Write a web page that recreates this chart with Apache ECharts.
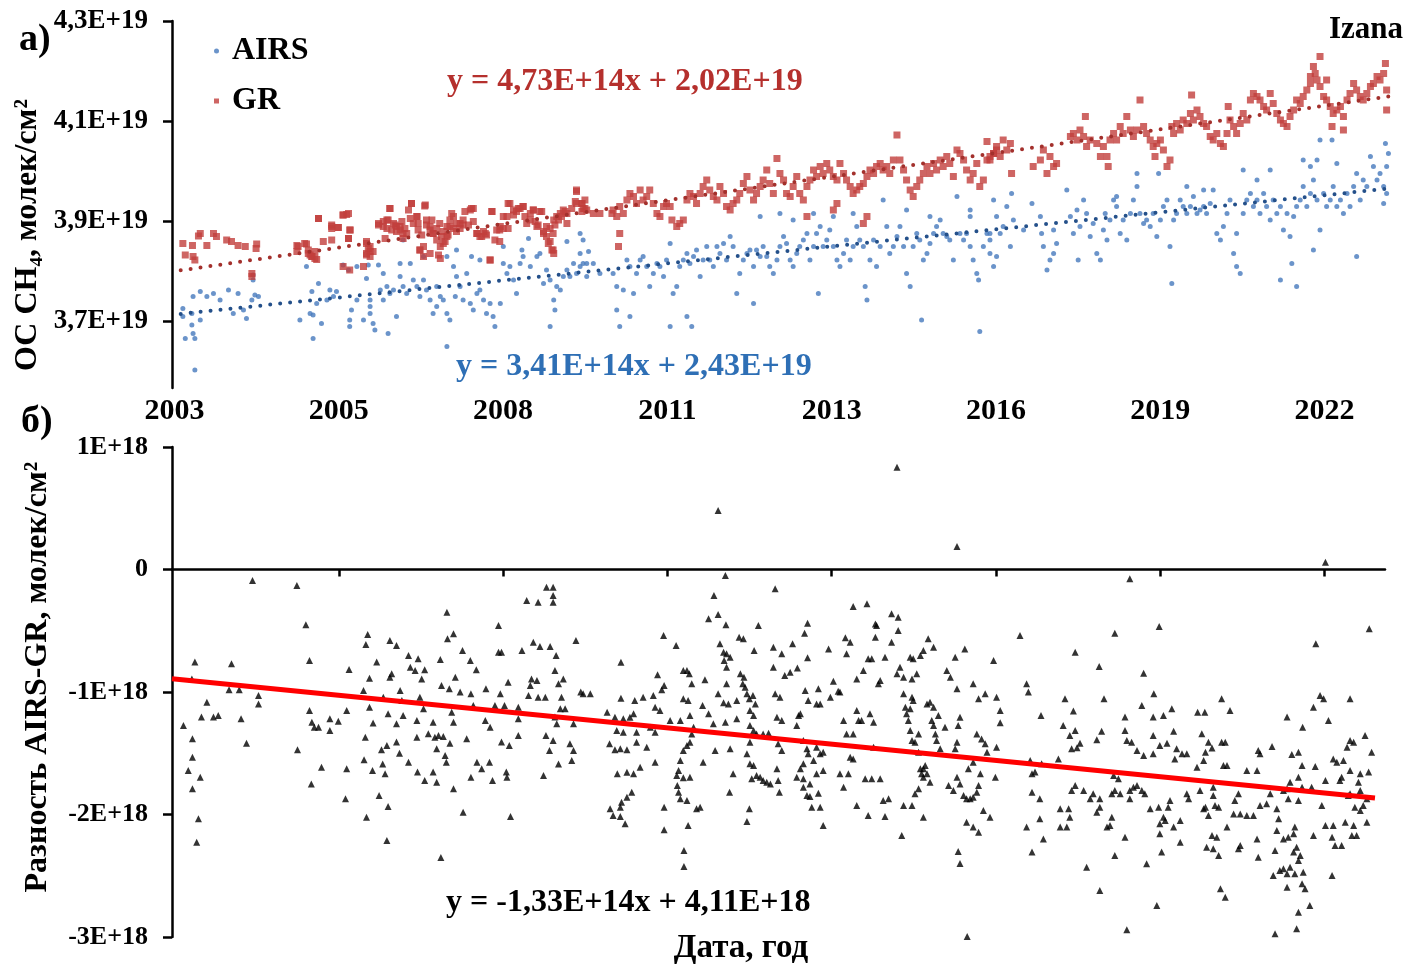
<!DOCTYPE html>
<html>
<head>
<meta charset="utf-8">
<script src="https://cdn.jsdelivr.net/npm/echarts@6/dist/echarts.min.js"></script>
<style>
html,body{margin:0;padding:0;background:#fff;}
#chart{width:1406px;height:965px;}
</style>
</head>
<body>
<div id="chart"></div>
<script>
// Izana: CH4 total column, AIRS vs ground-based (GR), and their difference.
// Dates are decimal years; values are in 1E+19 (top) and 1E+18 (bottom) molec/cm2.

const xTickDays = [37622, 38622, 39622, 40622, 41622, 42622, 43622, 44622];
const xTickLabels = ['2003', '2005', '2008', '2011', '2013', '2016', '2019', '2022'];
const topTicks = [3.7, 3.9, 4.1, 4.3];
const bottomTicks = [1, 0, -1, -2, -3];

// linear fits: [slope per day, intercept]
const grFit = [4.73e14, 2.02e19];
const airsFit = [3.41e14, 2.43e19];
const diffFit = [-1.33e14, 4.11e18];

const grPts = [
[2003.14,3.855],[2003.30,3.851],[2003.43,3.875],[2003.40,3.870],[2003.54,3.851],[2003.65,3.875],[2003.70,3.869],[2003.87,3.862],[2003.95,3.859],[2004.06,3.851],[2004.18,3.849],[2004.37,3.854],[2004.36,3.845],[2003.18,3.832],[2003.31,3.829],[2003.34,3.822],[2004.29,3.795],[2004.29,3.789],[2005.04,3.851],[2005.20,3.854],[2005.23,3.835],[2005.29,3.829],[2005.34,3.839],[2005.37,3.823],[2005.40,3.905],[2005.62,3.889],[2005.73,3.887],[2005.81,3.912],[2005.87,3.913],[2005.92,3.882],[2005.90,3.865],[2005.81,3.809],[2005.92,3.802],[2006.15,3.809],[2006.20,3.855],[2006.26,3.849],[2006.20,3.835],[2006.26,3.829],[2006.31,3.839],[2006.40,3.895],[2006.48,3.889],[2006.59,3.925],[2006.54,3.902],[2006.65,3.895],[2006.70,3.889],[2006.76,3.882],[2006.81,3.875],[2006.90,3.922],[2006.95,3.935],[2007.04,3.909],[2007.06,3.895],[2007.17,3.930],[2007.20,3.902],[2007.26,3.889],[2007.31,3.875],[2007.37,3.862],[2007.43,3.849],[2007.48,3.855],[2007.54,3.869],[2007.59,3.889],[2007.65,3.909],[2007.70,3.895],[2007.76,3.885],[2007.81,3.892],[2007.93,3.922],[2007.98,3.925],[2008.04,3.875],[2008.12,3.869],[2008.18,3.875],[2008.26,3.822],[2008.29,3.919],[2008.37,3.882],[2008.43,3.889],[2008.48,3.909],[2008.56,3.935],[2008.65,3.922],[2008.73,3.925],[2008.81,3.929],[2008.87,3.895],[2008.93,3.915],[2008.98,3.922],[2009.04,3.889],[2009.09,3.919],[2009.15,3.875],[2009.20,3.889],[2009.26,3.885],[2009.32,3.902],[2009.37,3.909],[2009.43,3.915],[2009.48,3.922],[2009.54,3.915],[2009.70,3.959],[2009.70,3.935],[2009.79,3.919],[2009.81,3.925],[2009.32,3.835],[2009.29,3.842],[2009.23,3.855],[2007.26,3.835],[2007.09,3.842],[2007.15,3.829],[2007.43,3.825],
[2005.40,3.905],[2005.62,3.892],[2005.62,3.885],[2005.73,3.887],[2005.81,3.912],[2005.90,3.915],[2005.93,3.882],[2005.48,3.859],[2005.62,3.862],[2005.17,3.855],[2005.06,3.849],[2005.04,3.839],[2005.23,3.842],[2005.29,3.829],[2005.34,3.825],[2005.26,3.832],[2005.90,3.865],[2006.20,3.859],[2006.23,3.845],[2006.26,3.839],[2006.20,3.832],[2006.40,3.892],[2006.48,3.899],[2006.56,3.902],[2006.59,3.925],[2006.54,3.885],[2006.62,3.882],[2006.68,3.892],[2006.70,3.879],[2006.76,3.889],[2006.79,3.899],[2006.84,3.885],[2006.87,3.875],[2006.93,3.905],[2006.95,3.935],[2006.98,3.895],[2007.04,3.909],[2007.06,3.882],[2007.12,3.872],[2007.18,3.932],[2007.20,3.892],[2007.26,3.882],[2007.29,3.902],[2007.31,3.875],[2007.37,3.885],[2007.42,3.895],[2007.45,3.869],[2007.48,3.879],[2007.54,3.889],[2007.56,3.872],[2007.59,3.902],[2007.62,3.915],[2007.65,3.885],[2007.70,3.879],[2007.76,3.895],[2007.81,3.902],[2007.84,3.919],[2007.90,3.892],[2007.95,3.925],[2007.98,3.899],[2008.04,3.875],[2008.09,3.869],[2008.15,3.879],[2008.20,3.872],[2008.29,3.919],[2008.34,3.862],[2008.42,3.859],[2008.42,3.882],[2008.48,3.885],[2008.54,3.909],[2008.56,3.885],[2008.59,3.935],[2008.65,3.912],[2008.70,3.919],[2008.76,3.925],[2008.81,3.929],[2008.84,3.909],[2008.93,3.902],[2008.98,3.922],[2009.01,3.899],[2009.06,3.892],[2009.12,3.919],[2009.15,3.879],[2009.20,3.869],[2009.26,3.859],[2009.31,3.875],[2009.34,3.892],[2009.40,3.902],[2009.45,3.909],[2009.51,3.919],[2009.54,3.895],[2009.62,3.925],[2009.68,3.939],[2009.70,3.962],[2009.79,3.935],[2009.84,3.925],[2007.15,3.849],[2007.09,3.842],[2007.40,3.832],[2007.51,3.859],[2008.26,3.822],[2009.31,3.842],[2006.81,3.865],[2006.51,3.865],
[2009.79,3.935],[2009.87,3.922],[2009.98,3.915],[2010.09,3.915],[2009.84,3.942],[2010.31,3.922],[2010.37,3.909],[2010.42,3.929],[2010.48,3.915],[2010.54,3.942],[2010.59,3.955],[2010.65,3.949],[2010.70,3.935],[2010.76,3.962],[2010.81,3.942],[2010.87,3.949],[2010.92,3.962],[2010.98,3.935],[2011.04,3.915],[2011.09,3.909],[2011.15,3.929],[2011.20,3.935],[2011.26,3.929],[2011.29,3.902],[2011.37,3.889],[2011.42,3.895],[2011.48,3.902],[2011.54,3.942],[2011.59,3.955],[2011.65,3.949],[2011.70,3.935],[2011.76,3.955],[2011.81,3.969],[2011.87,3.982],[2011.92,3.962],[2011.98,3.949],[2012.04,3.942],[2012.09,3.969],[2012.15,3.955],[2012.20,3.929],[2012.26,3.922],[2012.31,3.935],[2012.37,3.942],[2012.42,3.955],[2012.48,3.975],[2012.54,3.989],[2012.59,3.962],[2012.65,3.942],[2012.70,3.955],[2012.76,3.969],[2012.81,3.982],[2012.87,4.002],[2012.92,3.975],[2012.98,3.955],[2013.04,4.025],[2013.09,3.995],[2013.15,3.982],[2013.20,3.955],[2013.26,3.949],[2013.31,3.969],[2013.37,3.989],[2013.42,3.955],[2013.48,3.942],[2013.54,3.969],[2013.59,3.982],[2013.65,4.002],[2013.70,3.989],[2013.76,4.009],[2013.81,3.995],[2013.87,4.015],[2013.92,4.002],[2013.98,3.989],[2014.04,3.982],[2014.09,4.015],[2014.15,3.995],[2014.20,3.982],[2014.26,3.969],[2014.31,3.955],[2014.37,3.962],[2014.42,3.969],[2014.48,3.975],[2014.54,3.989],[2014.59,4.002],[2014.65,3.995],[2014.70,4.009],[2014.76,4.015],[2014.81,4.002],[2014.87,4.009],[2014.92,3.995],[2014.98,4.022],[2015.04,4.072],[2015.09,4.022],[2015.15,4.002],[2015.20,3.982],[2015.26,3.962],[2015.31,3.949],[2015.37,3.969],[2015.42,3.982],[2015.48,3.995],[2015.54,4.009],[2015.59,3.995],[2015.65,4.015],[2015.70,4.002],[2015.76,4.022],[2015.81,4.009],[2015.87,4.029],[2015.92,4.015],[2015.98,3.989],[2016.04,4.042],[2016.09,4.035],[2016.15,4.022],[2016.20,4.002],[2016.26,3.982],[2016.31,3.995],[2016.37,4.015],[2016.42,3.969],[2016.48,3.982],[2016.54,4.022],[2016.59,4.029],[2016.65,4.035],[2016.70,4.042],[2016.54,4.059],[2010.40,3.849],[2010.42,3.875],[2010.29,3.915],[2014.48,3.895],[2014.54,3.909],[2013.98,3.922],[2014.04,3.935],[2013.54,3.909],
[2016.59,4.022],[2016.65,4.035],[2016.70,4.049],[2016.76,4.029],[2016.81,4.062],[2016.87,4.042],[2016.93,4.055],[2016.95,3.995],[2017.31,4.009],[2017.43,4.022],[2017.48,4.042],[2017.54,3.995],[2017.59,4.029],[2017.65,4.009],[2017.70,4.015],[2017.93,4.069],[2017.98,4.075],[2018.04,4.062],[2018.09,4.082],[2018.15,4.069],[2018.18,4.109],[2018.20,4.049],[2018.26,4.062],[2018.37,4.055],[2018.43,4.029],[2018.48,4.049],[2018.54,4.029],[2018.56,4.009],[2018.59,4.062],[2018.65,4.075],[2018.70,4.062],[2018.76,4.089],[2018.81,4.075],[2018.87,4.109],[2018.93,4.082],[2018.98,4.069],[2019.04,4.082],[2019.09,4.142],[2019.15,4.089],[2019.20,4.075],[2019.26,4.062],[2019.31,4.049],[2019.34,4.029],[2019.37,4.055],[2019.43,4.062],[2019.48,4.042],[2019.54,4.009],[2019.59,4.022],[2019.62,4.089],[2019.65,4.075],[2019.70,4.095],[2019.76,4.082],[2019.81,4.102],[2019.87,4.095],[2019.93,4.115],[2019.95,4.152],[2019.98,4.102],[2020.04,4.122],[2020.09,4.109],[2020.15,4.095],[2020.20,4.089],[2020.26,4.069],[2020.31,4.062],[2020.37,4.075],[2020.43,4.055],[2020.48,4.049],[2020.54,4.075],[2020.56,4.129],[2020.59,4.102],[2020.65,4.089],[2020.70,4.075],[2020.76,4.095],[2020.81,4.115],[2020.87,4.102],[2020.93,4.142],[2020.98,4.155],[2021.04,4.149],[2021.09,4.142],[2021.15,4.129],[2021.20,4.122],[2021.26,4.155],[2021.31,4.135],[2021.37,4.115],[2021.43,4.102],[2021.48,4.095],[2021.54,4.089],[2021.59,4.109],[2021.65,4.122],[2021.70,4.142],[2021.76,4.135],[2021.81,4.149],[2021.87,4.162],[2021.93,4.175],[2021.98,4.209],[2022.01,4.195],[2022.04,4.182],[2022.09,4.169],[2022.15,4.149],[2022.20,4.142],[2022.26,4.129],[2022.29,4.089],[2022.31,4.115],[2022.37,4.122],[2022.43,4.129],[2022.48,4.109],[2022.54,4.142],[2022.59,4.155],[2022.65,4.175],[2022.70,4.162],[2022.76,4.149],[2022.81,4.142],[2022.87,4.155],[2022.93,4.169],[2022.98,4.175],[2023.04,4.189],[2023.09,4.182],[2023.15,4.195],[2023.18,4.215],[2023.20,4.162],[2023.20,4.122],[2022.48,4.082],[2022.20,4.182],[2022.09,4.229],[2021.93,4.189]
];

const airsPts = [
[2003.14,3.725],[2003.14,3.709],[2003.18,3.665],[2003.29,3.715],[2003.29,3.692],[2003.31,3.675],[2003.34,3.665],[2003.34,3.602],[2003.43,3.702],[2003.31,3.749],[2003.43,3.759],[2003.54,3.749],[2003.65,3.755],[2003.76,3.742],[2003.90,3.762],[2003.98,3.715],[2004.06,3.755],[2004.15,3.722],[2004.20,3.705],[2004.29,3.742],[2004.34,3.752],[2004.40,3.749],[2004.31,3.782],[2004.31,3.792],[2005.09,3.702],[2005.26,3.715],[2005.29,3.759],[2005.31,3.712],[2005.31,3.665],[2005.37,3.735],[2005.45,3.695],[2005.40,3.775],[2005.54,3.742],[2005.59,3.762],[2005.65,3.749],[2005.70,3.759],[2005.20,3.809],[2005.81,3.812],[2005.90,3.802],[2005.92,3.702],[2005.92,3.689],[2005.95,3.722],[2006.04,3.742],[2006.15,3.702],[2006.20,3.785],[2006.23,3.812],[2006.26,3.742],[2006.26,3.729],[2006.26,3.715],[2006.31,3.695],[2006.34,3.682],[2006.40,3.812],[2006.43,3.762],[2006.48,3.742],[2006.54,3.769],[2006.56,3.675],[2006.59,3.755],[2006.65,3.762],[2006.70,3.709],[2006.76,3.815],[2006.76,3.789],[2006.81,3.769],[2006.87,3.755],[2006.93,3.815],[2006.98,3.782],[2007.04,3.769],[2007.09,3.749],[2007.15,3.782],[2007.20,3.762],[2007.26,3.742],[2007.31,3.715],[2007.37,3.729],[2007.37,3.769],[2007.43,3.749],[2007.48,3.742],[2007.54,3.649],[2007.54,3.715],[2007.59,3.702],[2007.65,3.809],[2007.68,3.749],[2007.70,3.789],[2007.76,3.769],[2007.81,3.742],[2007.87,3.795],[2007.93,3.735],[2007.98,3.722],[2008.04,3.755],[2008.09,3.762],[2008.15,3.742],[2008.20,3.715],[2008.26,3.735],[2008.31,3.709],[2008.34,3.689],[2008.43,3.735],[2008.48,3.815],[2008.54,3.795],[2008.59,3.809],[2008.65,3.782],[2008.70,3.755],[2008.76,3.815],[2008.81,3.829],[2008.93,3.809],[2009.04,3.829],[2009.09,3.835],[2009.15,3.775],[2009.20,3.802],[2009.26,3.782],[2009.32,3.742],[2009.34,3.722],[2009.26,3.689],[2009.37,3.769],[2009.43,3.762],[2009.48,3.789],[2009.54,3.802],[2009.59,3.789],[2009.65,3.815],[2009.70,3.795],[2009.76,3.835],[2009.81,3.815],[2009.87,3.789],[2009.90,3.839],[2009.81,3.862],[2009.54,3.859],[2009.76,3.875],[2008.90,3.865],[2008.79,3.842],[2008.48,3.849],[2008.09,3.822],[2007.95,3.829],[2007.70,3.842],[2007.54,3.829],[2007.15,3.829],[2006.81,3.862],[2006.48,3.795],[2006.04,3.809],
[2009.76,3.809],[2009.87,3.815],[2009.98,3.815],[2010.09,3.795],[2010.31,3.795],[2010.37,3.769],[2010.37,3.722],[2010.42,3.689],[2010.48,3.762],[2010.54,3.822],[2010.59,3.809],[2010.65,3.755],[2010.59,3.709],[2010.70,3.795],[2010.76,3.822],[2010.81,3.829],[2010.87,3.809],[2010.92,3.769],[2010.98,3.795],[2011.04,3.815],[2011.09,3.809],[2011.15,3.789],[2011.20,3.822],[2011.26,3.855],[2011.26,3.689],[2011.31,3.755],[2011.37,3.769],[2011.42,3.809],[2011.48,3.822],[2011.54,3.835],[2011.54,3.709],[2011.59,3.815],[2011.62,3.689],[2011.65,3.829],[2011.70,3.842],[2011.76,3.789],[2011.81,3.822],[2011.87,3.849],[2011.92,3.822],[2011.98,3.809],[2012.04,3.849],[2012.09,3.835],[2012.15,3.855],[2012.20,3.822],[2012.26,3.869],[2012.31,3.849],[2012.37,3.755],[2012.42,3.795],[2012.48,3.822],[2012.54,3.835],[2012.59,3.842],[2012.65,3.735],[2012.65,3.809],[2012.70,3.842],[2012.76,3.829],[2012.81,3.849],[2012.87,3.829],[2012.92,3.809],[2012.98,3.795],[2013.04,3.822],[2013.09,3.849],[2013.15,3.869],[2013.20,3.855],[2013.26,3.822],[2013.31,3.809],[2013.37,3.835],[2013.42,3.849],[2013.48,3.862],[2013.54,3.875],[2013.59,3.822],[2013.65,3.849],[2013.70,3.875],[2013.73,3.755],[2013.76,3.889],[2013.81,3.849],[2013.87,3.862],[2013.92,3.882],[2013.98,3.849],[2014.04,3.822],[2014.09,3.809],[2014.15,3.835],[2014.20,3.862],[2014.26,3.822],[2014.31,3.849],[2014.37,3.889],[2014.42,3.862],[2014.48,3.849],[2014.51,3.769],[2014.54,3.742],[2014.59,3.822],[2014.65,3.862],[2014.70,3.809],[2014.76,3.849],[2014.81,3.942],[2014.87,3.889],[2014.92,3.835],[2014.98,3.849],[2015.04,3.869],[2015.09,3.889],[2015.15,3.849],[2015.20,3.795],[2015.26,3.769],[2015.31,3.849],[2015.37,3.875],[2015.42,3.862],[2015.45,3.702],[2015.48,3.822],[2015.54,3.835],[2015.59,3.855],[2015.65,3.875],[2015.70,3.889],[2015.76,3.902],[2015.81,3.875],[2015.87,3.869],[2015.92,3.862],[2015.98,3.822],[2016.04,3.949],[2016.09,3.875],[2016.15,3.862],[2016.20,3.875],[2016.26,3.849],[2016.31,3.822],[2016.37,3.795],[2016.40,3.782],[2016.42,3.679],[2016.48,3.849],[2016.54,3.875],[2016.59,3.862],[2016.65,3.942],[2016.70,3.829],[2012.76,3.909],[2013.09,3.915],[2013.31,3.902],[2013.65,3.915],[2013.98,3.909],[2014.31,3.915],[2015.20,3.922],[2015.59,3.909],[2016.26,3.922],[2016.26,3.909],
[2016.59,3.875],[2016.59,3.835],[2016.65,3.809],[2016.70,3.909],[2016.76,3.875],[2016.81,3.889],[2016.87,3.929],[2016.93,3.849],[2016.95,3.955],[2016.98,3.902],[2017.15,3.882],[2017.29,3.935],[2017.43,3.909],[2017.45,3.875],[2017.48,3.849],[2017.54,3.802],[2017.59,3.822],[2017.65,3.835],[2017.65,3.882],[2017.70,3.855],[2017.87,3.962],[2017.93,3.909],[2017.98,3.875],[2018.04,3.922],[2018.06,3.822],[2018.09,3.889],[2018.15,3.942],[2018.20,3.915],[2018.26,3.869],[2018.31,3.895],[2018.37,3.835],[2018.43,3.822],[2018.48,3.882],[2018.51,3.915],[2018.54,3.862],[2018.59,3.902],[2018.65,3.942],[2018.70,3.929],[2018.76,3.875],[2018.81,3.902],[2018.87,3.862],[2018.93,3.915],[2018.98,3.942],[2019.04,3.969],[2019.09,3.915],[2019.15,3.895],[2019.20,3.902],[2019.26,3.889],[2019.31,3.915],[2019.37,3.869],[2019.40,3.995],[2019.43,3.902],[2019.48,3.929],[2019.54,3.942],[2019.59,3.849],[2019.62,3.775],[2019.65,3.902],[2019.70,3.915],[2019.76,3.942],[2019.81,3.929],[2019.87,3.915],[2019.93,3.929],[2019.98,3.949],[2020.04,3.915],[2020.09,3.922],[2020.15,3.929],[2020.20,3.915],[2020.26,3.935],[2020.31,3.962],[2020.37,3.875],[2020.43,3.862],[2020.48,3.889],[2020.54,3.915],[2020.59,3.942],[2020.65,3.835],[2020.70,3.875],[2020.76,3.795],[2020.81,3.915],[2020.87,3.942],[2020.93,3.955],[2020.98,3.929],[2021.04,3.942],[2021.09,3.915],[2021.15,3.955],[2021.20,3.929],[2021.26,3.902],[2021.31,3.942],[2021.37,3.915],[2021.43,3.929],[2021.48,3.882],[2021.54,3.915],[2021.59,3.869],[2021.62,3.815],[2021.65,3.909],[2021.70,3.929],[2021.76,3.942],[2021.81,3.969],[2021.87,3.929],[2021.93,3.955],[2021.98,3.982],[2022.04,3.942],[2022.09,3.882],[2022.09,4.062],[2022.15,3.955],[2022.20,3.929],[2022.26,3.942],[2022.29,4.062],[2022.31,3.969],[2022.37,3.929],[2022.43,3.942],[2022.48,3.915],[2022.54,3.955],[2022.59,3.929],[2022.65,3.969],[2022.70,3.829],[2022.70,3.995],[2022.76,3.942],[2022.81,3.982],[2022.87,3.969],[2022.93,4.029],[2022.98,4.009],[2023.04,3.982],[2023.09,3.995],[2023.15,3.969],[2023.18,4.055],[2023.20,4.009],[2023.20,3.955],[2023.23,4.035],[2023.15,3.935],[2021.93,4.009],[2021.81,4.022],[2022.04,4.022],[2022.37,4.015],[2021.70,3.769],[2021.98,3.842],[2021.43,3.782],[2018.70,3.949],[2019.04,3.995],[2019.87,3.969],[2020.15,3.962],[2020.81,4.002],[2021.04,3.982],[2021.26,4.002],[2020.70,3.809]
];

const diffPts = [
[2003.15,-1.273],[2003.30,-1.382],[2003.30,-1.532],[2003.23,-1.641],[2003.30,-1.790],[2003.40,-2.035],[2003.37,-2.226],[2003.43,-1.695],[2003.34,-0.756],[2003.29,-0.893],[2003.45,-1.205],[2003.54,-1.083],[2003.65,-1.205],[2003.73,-1.192],[2003.95,-0.770],[2003.91,-0.982],[2004.08,-0.982],[2004.11,-1.219],[2004.20,-1.418],[2004.30,-0.090],[2004.40,-1.028],[2004.40,-1.097],[2005.04,-0.131],[2005.05,-1.472],[2005.19,-0.452],[2005.25,-0.743],[2005.25,-1.151],[2005.29,-1.246],[2005.33,-1.287],[2005.40,-1.287],[2005.45,-1.614],[2005.28,-1.750],[2005.59,-1.219],[2005.59,-1.314],[2005.73,-1.238],[2005.85,-1.872],[2005.87,-1.151],[2005.87,-1.627],[2005.91,-0.816],[2006.15,-0.988],[2006.19,-0.612],[2006.22,-0.531],[2006.25,-0.887],[2006.25,-1.124],[2006.18,-1.369],[2006.16,-1.554],[2006.20,-2.022],[2006.30,-1.641],[2006.31,-1.254],[2006.37,-0.756],[2006.41,-1.845],[2006.45,-1.472],[2006.48,-1.042],[2006.47,-1.587],[2006.51,-1.668],[2006.54,-2.212],[2006.54,-1.437],[2006.56,-1.178],[2006.56,-1.935],[2006.59,-0.580],[2006.59,-0.879],[2006.62,-0.852],[2006.70,-0.620],[2006.70,-1.260],[2006.70,-1.409],[2006.75,-1.499],[2006.76,-0.988],[2006.79,-1.069],[2006.81,-1.192],[2006.90,-0.702],[2006.90,-1.573],[2006.93,-0.797],[2007.01,-0.824],[2007.04,-1.233],[2007.04,-1.369],[2007.05,-1.654],[2007.06,-0.729],[2007.09,-1.042],[2007.12,-0.893],[2007.15,-1.137],[2007.17,-0.819],[2007.17,-1.722],[2007.23,-1.341],[2007.31,-1.246],[2007.31,-1.654],[2007.34,-1.369],[2007.37,-1.464],[2007.37,-1.736],[2007.40,-1.355],[2007.43,-0.735],[2007.45,-0.947],[2007.48,-1.363],[2007.51,-1.518],[2007.53,-1.573],[2007.54,-0.348],[2007.55,-0.566],[2007.58,-0.974],[2007.59,-1.418],[2007.62,-1.165],[2007.65,-0.525],[2007.65,-1.246],[2007.65,-1.790],[2007.68,-0.879],[2007.76,-1.001],[2007.80,-0.661],[2007.81,-1.981],[2007.87,-1.382],[2007.93,-0.743],[2007.94,-1.015],[2007.94,-1.695],[2007.98,-1.110],[2008.03,-0.819],[2008.04,-1.573],[2008.12,-1.627],[2008.18,-1.233],[2008.19,-0.974],[2008.26,-1.287],[2008.25,-1.573],[2008.30,-1.722],[2008.34,-1.110],[2008.40,-0.457],[2008.40,-0.675],[2008.43,-1.015],[2008.45,-0.675],[2008.45,-1.409],[2008.50,-1.110],[2008.53,-1.654],[2008.54,-1.695],[2008.56,-0.920],[2008.58,-1.437],[2008.60,-2.016],[2008.73,-1.124],[2008.73,-1.219],[2008.73,-1.355],[2008.79,-0.661],[2008.87,-0.253],[2008.90,-1.029],[2008.93,-0.947],[2008.95,-0.893],[2008.98,-0.593],[2009.04,-0.906],[2009.06,-0.267],[2009.06,-1.042],[2009.09,-0.629],[2009.15,-1.682],[2009.18,-1.042],[2009.20,-0.144],[2009.19,-1.355],[2009.25,-1.478],[2009.26,-0.629],[2009.31,-0.144],[2009.31,-0.267],[2009.31,-0.212],[2009.31,-1.396],[2009.34,-0.824],[2009.34,-1.205],[2009.36,-0.702],[2009.37,-1.260],[2009.40,-0.933],[2009.43,-1.137],[2009.45,-1.042],[2009.48,-0.893],[2009.40,-1.587],[2009.59,-1.423],[2009.65,-1.478],[2009.62,-1.559],[2009.65,-1.260],[2009.69,-0.580],[2009.77,-1.001],[2009.81,-1.015],[2009.51,-1.137],[2007.44,-2.351],
[2012.06,0.482],[2015.04,0.835],[2016.04,0.188],[2012.18,-0.049],[2011.99,-0.212],[2013.01,-0.158],[2011.90,-0.403],[2012.06,-0.367],[2012.19,-0.452],[2011.15,-0.539],[2011.36,-0.620],[2010.44,-0.757],[2011.05,-0.860],[2011.12,-0.982],[2011.16,-0.947],[2009.93,-1.015],[2010.44,-1.050],[2010.67,-1.069],[2010.81,-1.042],[2010.98,-1.028],[2011.01,-1.124],[2011.09,-1.151],[2010.21,-1.165],[2010.34,-1.206],[2010.48,-1.219],[2010.59,-1.206],[2010.65,-1.178],[2010.37,-1.314],[2010.48,-1.328],[2010.70,-1.328],[2010.93,-1.287],[2011.01,-1.328],[2010.25,-1.423],[2010.34,-1.472],[2010.43,-1.464],[2010.54,-1.472],[2010.70,-1.410],[2010.87,-1.450],[2011.01,-1.573],[2010.38,-1.668],[2010.54,-1.655],[2010.65,-1.668],[2010.76,-1.614],[2010.62,-1.818],[2010.54,-1.859],[2010.45,-1.899],[2010.26,-1.954],[2010.43,-1.940],[2010.31,-2.008],[2010.43,-2.016],[2010.51,-2.076],[2011.16,-1.940],[2011.16,-2.125],[2011.26,-1.233],[2011.43,-1.233],[2011.48,-0.824],[2011.54,-0.824],[2011.58,-0.852],[2011.48,-1.056],[2011.56,-1.069],[2011.62,-0.933],[2011.59,-1.192],[2011.65,-1.287],[2011.62,-1.342],[2011.59,-1.410],[2011.54,-1.437],[2011.48,-1.478],[2011.43,-1.559],[2011.40,-1.641],[2011.37,-1.682],[2011.48,-1.701],[2011.59,-1.695],[2011.38,-1.763],[2011.40,-1.818],[2011.43,-1.872],[2011.54,-1.886],[2011.56,-2.090],[2011.70,-1.954],[2011.76,-1.940],[2011.81,-1.573],[2011.84,-0.901],[2011.80,-1.110],[2011.90,-1.178],[2011.98,-1.260],[2012.01,-1.478],[2012.06,-1.015],[2012.09,-0.607],[2012.15,-0.675],[2012.20,-0.688],[2012.16,-0.743],[2012.20,-0.797],[2012.26,-0.716],[2012.20,-0.933],[2012.15,-1.088],[2012.23,-1.097],[2012.18,-1.246],[2012.26,-1.464],[2012.31,-1.668],[2012.25,-1.818],[2012.37,-1.069],[2012.37,-1.219],[2012.41,-0.553],[2012.48,-0.566],[2012.43,-0.852],[2012.49,-0.879],[2012.47,-0.933],[2012.51,-0.961],[2012.54,-1.015],[2012.58,-1.056],[2012.64,-1.029],[2012.59,-1.151],[2012.65,-1.192],[2012.68,-1.097],[2012.59,-1.274],[2012.65,-1.314],[2012.70,-1.342],[2012.59,-1.410],[2012.54,-1.505],[2012.59,-1.586],[2012.65,-1.600],[2012.62,-1.709],[2012.70,-1.682],[2012.76,-1.695],[2012.81,-1.722],[2012.87,-1.736],[2012.93,-1.750],[2012.58,-1.954],[2012.54,-2.057],[2012.66,-0.661],[2012.73,-0.457],[2012.81,-1.342],[2012.90,-1.336],[2012.98,-0.797],[2013.01,-1.015],[2013.09,-1.042],[2013.04,-1.206],[2013.12,-1.233],[2013.06,-1.423],[2013.12,-1.478],[2013.04,-1.627],[2013.06,-1.722],[2013.08,-1.818],[2012.98,-0.634],[2013.12,-0.688],[2013.17,-0.865],[2013.26,-0.838],[2013.30,-0.607],[2013.38,-0.805],[2013.50,-0.520],[2013.55,-0.438],[2013.55,-0.721],[2013.51,-0.988],[2013.56,-1.069],[2013.70,-1.097],[2013.76,-1.097],[2013.73,-0.974],[2013.40,-1.192],[2013.37,-1.274],[2013.43,-1.178],[2013.48,-1.396],[2013.54,-1.464],[2013.56,-1.505],[2013.70,-1.450],[2013.76,-1.505],[2013.81,-1.491],[2013.65,-1.559],[2013.48,-1.586],[2013.43,-1.627],[2013.37,-1.695],[2013.48,-1.709],[2013.59,-1.750],[2013.70,-1.668],[2013.81,-1.641],[2013.48,-1.777],[2013.54,-1.845],[2013.59,-1.853],[2013.73,-1.826],[2013.62,-1.940],[2013.76,-1.940],[2013.81,-2.090],[2013.90,-0.648],[2013.98,-0.912],[2013.93,-1.042],[2014.06,-0.993],[2014.09,-1.001],[2014.15,-1.233],[2014.20,-1.342],[2014.26,-0.593],[2014.18,-0.558],[2014.20,-0.688],[2014.31,-0.302],[2014.37,-0.893],[2014.37,-1.151],[2014.40,-1.233],[2014.45,-1.233],[2014.48,-0.824],[2014.54,-0.280],[2014.56,-0.729],[2014.62,-0.729],[2014.59,-1.178],[2014.65,-1.246],[2014.68,-0.444],[2014.68,-0.553],[2014.70,-0.457],[2014.73,-0.933],[2014.76,-0.906],[2014.84,-0.716],[2014.31,-1.342],[2014.31,-1.546],[2014.26,-1.532],[2014.23,-1.668],[2014.09,-1.668],[2014.15,-1.777],[2014.37,-1.927],[2014.51,-1.709],[2014.56,-2.008],[2014.62,-1.709],[2014.65,-1.450],[2014.76,-1.709],[2014.81,-1.886],[2014.84,-2.016],[2014.90,-1.872],[2014.95,-0.362],[2014.95,-0.593],[2015.06,-0.389],[2015.06,-0.498],[2015.09,-0.797],[2015.04,-0.852],[2015.15,-1.015],[2015.18,-1.124],[2015.20,-1.178],[2015.26,-1.137],[2015.23,-1.233],[2015.29,-1.042],[2015.31,-1.069],[2015.26,-1.314],[2015.29,-1.396],[2015.34,-1.410],[2015.40,-1.342],[2015.40,-1.491],[2015.43,-1.627],[2015.34,-1.831],[2015.40,-1.790],[2015.45,-1.668],[2015.48,-1.627],[2015.51,-1.600],[2015.48,-1.695],[2015.54,-1.668],[2015.59,-1.736],[2015.15,-1.927],[2015.12,-2.171],[2015.29,-1.927],[2015.48,-2.022],[2015.56,-0.566],[2015.65,-0.634],[2015.48,-0.661],[2015.43,-0.702],[2015.31,-0.729],[2015.26,-0.716],[2015.37,-0.852],[2015.29,-0.893],[2015.15,-0.879],[2015.54,-1.097],[2015.59,-1.083],[2015.65,-1.124],[2015.62,-1.233],[2015.73,-1.192],[2015.65,-1.274],[2015.68,-1.342],[2015.70,-1.396],[2015.76,-1.464],[2015.84,-1.287],[2015.87,-0.824],[2015.93,-0.879],[2016.01,-0.716],[2016.04,-0.974],[2016.09,-1.206],[2016.06,-1.274],[2016.04,-1.410],[2016.01,-1.464],[2016.04,-1.695],[2016.09,-1.750],[2015.90,-1.763],[2015.98,-1.804],[2016.15,-1.845],[2016.20,-1.872],[2016.26,-1.872],[2016.31,-1.859],[2016.37,-1.818],[2016.40,-1.763],[2016.43,-1.668],[2016.20,-2.063],[2016.31,-2.103],[2016.40,-2.144],[2016.48,-1.967],[2016.51,-1.423],[2016.54,-1.491],[2016.37,-1.342],[2016.40,-1.056],[2016.51,-1.015],[2016.31,-0.933],[2016.17,-0.648],[2016.23,-1.627],[2016.31,-1.573],[2016.45,-1.383],[2016.65,-0.743],[2016.70,-1.042],[2016.70,-1.450],[2016.68,-1.695],[2016.59,-2.022],[2011.49,-2.294],[2011.49,-2.424],[2016.21,-2.996],[2016.06,-2.302],[2016.09,-2.400],
[2022.18,0.060],[2018.92,-0.076],[2017.09,-0.539],[2018.01,-0.675],[2018.67,-0.520],[2019.41,-0.465],[2022.91,-0.484],[2022.02,-0.607],[2018.41,-0.792],[2019.15,-0.846],[2017.20,-0.933],[2017.23,-1.001],[2017.84,-1.056],[2018.49,-1.056],[2017.98,-1.156],[2017.44,-1.192],[2016.76,-1.151],[2016.76,-1.252],[2019.32,-1.015],[2019.12,-1.110],[2018.84,-1.205],[2019.31,-1.205],[2019.48,-1.192],[2019.62,-1.137],[2020.45,-1.056],[2020.59,-1.151],[2020.05,-1.165],[2020.17,-1.165],[2021.98,-1.124],[2022.09,-1.029],[2022.15,-1.056],[2022.59,-1.056],[2022.23,-1.233],[2021.80,-1.287],[2021.54,-1.205],[2017.81,-1.273],[2017.92,-1.355],[2018.01,-1.314],[2018.09,-1.418],[2017.95,-1.464],[2018.04,-1.456],[2018.45,-1.320],[2018.37,-1.390],[2018.84,-1.314],[2018.87,-1.396],[2018.95,-1.410],[2019.42,-1.437],[2019.54,-1.418],[2019.65,-1.320],[2019.70,-1.464],[2019.31,-1.355],[2019.04,-1.478],[2019.15,-1.518],[2019.31,-1.505],[2019.67,-1.546],[2019.79,-1.505],[2019.87,-1.505],[2020.04,-1.614],[2020.12,-1.341],[2020.23,-1.410],[2020.29,-1.458],[2020.18,-1.491],[2020.45,-1.410],[2020.51,-1.410],[2020.48,-1.600],[2020.54,-1.600],[2020.87,-1.641],[2021.04,-1.641],[2021.09,-1.505],[2021.06,-1.478],[2021.29,-1.445],[2021.62,-1.510],[2021.73,-1.491],[2021.79,-1.600],[2021.73,-1.695],[2021.59,-1.736],[2021.54,-1.790],[2022.01,-1.608],[2022.18,-1.722],[2022.31,-1.546],[2022.37,-1.573],[2022.45,-1.695],[2022.42,-1.722],[2022.59,-1.641],[2022.59,-1.396],[2022.65,-1.410],[2022.84,-1.355],[2022.95,-1.491],[2022.90,-1.654],[2022.59,-1.831],[2022.73,-1.736],[2022.76,-1.804],[2022.87,-1.872],[2022.81,-1.927],[2022.67,-1.940],[2022.56,-1.845],[2022.12,-1.927],[2021.95,-1.777],[2021.79,-1.777],[2021.56,-1.872],[2021.73,-1.886],[2021.37,-1.954],[2021.48,-1.804],[2021.26,-1.831],[2021.20,-1.913],[2021.09,-1.927],[2020.98,-2.008],[2020.87,-2.008],[2020.76,-1.995],[2020.67,-1.886],[2020.73,-1.831],[2020.65,-1.995],[2020.54,-2.103],[2020.40,-1.940],[2020.34,-1.927],[2020.23,-2.008],[2020.15,-1.954],[2020.31,-1.845],[2020.31,-1.777],[2020.15,-1.559],[2019.87,-1.831],[2019.90,-1.872],[2019.76,-2.049],[2019.65,-2.103],[2019.56,-1.940],[2019.59,-1.886],[2019.48,-2.022],[2019.42,-2.076],[2019.42,-2.158],[2019.45,-2.307],[2019.76,-2.226],[2019.37,-2.743],[2018.87,-2.941],[2019.20,-2.403],[2018.67,-2.335],[2018.20,-2.430],[2018.42,-2.620],[2017.48,-2.199],[2017.29,-2.307],[2017.20,-2.103],[2017.42,-2.035],[2017.42,-1.872],[2017.29,-1.818],[2017.29,-1.668],[2017.34,-1.654],[2017.26,-1.559],[2017.45,-1.586],[2017.73,-1.546],[2017.76,-1.954],[2017.76,-2.103],[2017.87,-2.103],[2017.92,-2.022],[2017.90,-1.954],[2017.95,-1.804],[2018.01,-1.763],[2018.15,-1.804],[2018.26,-1.872],[2018.31,-1.831],[2018.42,-1.872],[2018.42,-1.940],[2018.54,-2.103],[2018.59,-2.090],[2018.62,-2.022],[2018.37,-1.981],[2018.62,-1.831],[2018.67,-1.804],[2018.76,-1.831],[2018.92,-1.804],[2018.98,-1.777],[2019.04,-1.763],[2019.12,-1.804],[2019.17,-1.831],[2018.92,-1.872],[2018.65,-1.682],[2018.73,-1.709],[2018.84,-2.185],[2019.26,-1.954],[2019.40,-1.940],[2019.51,-2.049],[2020.09,-1.804],[2020.18,-1.940],[2020.29,-2.171],[2020.37,-2.185],[2020.40,-2.335],[2020.31,-2.280],[2020.20,-2.267],[2020.43,-2.607],[2020.51,-2.675],[2020.76,-2.253],[2020.73,-2.280],[2021.04,-2.199],[2021.06,-2.348],[2021.34,-2.294],[2021.40,-2.035],[2021.37,-2.131],[2021.48,-2.199],[2021.56,-2.185],[2021.65,-2.158],[2021.67,-2.103],[2021.70,-2.267],[2021.76,-2.335],[2021.73,-2.375],[2021.65,-2.307],[2021.67,-2.484],[2021.59,-2.430],[2021.54,-2.484],[2021.48,-2.443],[2021.42,-2.457],[2021.31,-2.498],[2021.54,-2.593],[2021.79,-2.566],[2021.81,-2.471],[2021.84,-2.607],[2021.73,-2.797],[2021.92,-2.743],[2021.70,-2.933],[2021.34,-2.974],[2021.98,-2.171],[2022.18,-2.090],[2022.29,-2.185],[2022.34,-2.253],[2022.45,-2.253],[2022.62,-2.171],[2022.70,-2.171],[2022.31,-2.090],[2022.51,-2.063],[2022.65,-2.090],[2022.87,-2.063],[2022.76,-1.967],[2022.29,-2.498],[2022.54,-1.450],[2022.48,-1.559],[2022.76,-1.668]
];

const SERIF = '"Liberation Serif", "Times New Roman", "DejaVu Serif", serif';
const BASE_DAY = 37622;      // 1 Jan 2003, spreadsheet day number
const toDay = yr => BASE_DAY + (yr - 2003) * 365.25;

const grData = grPts.map(p => [toDay(p[0]), p[1] * 1e19]);
const airsData = airsPts.map(p => [toDay(p[0]), p[1] * 1e19]);
const diffData = diffPts.map(p => [toDay(p[0]), p[1] * 1e18]);

const fitLine = (fit, d0, d1) => [[d0, fit[0] * d0 + fit[1]], [d1, fit[0] * d1 + fit[1]]];

const yearLabel = v => {
  const i = xTickDays.indexOf(Math.round(v));
  return i >= 0 ? xTickLabels[i] : '';
};
const topLabel = v => (v / 1e19).toFixed(1).replace('.', ',') + 'E+19';
const bottomLabel = v => {
  const n = Math.round(v / 1e18);
  return n === 0 ? '0' : n + 'E+18';
};

const axisBlack = { color: '#000', width: 2.5 };
const labelFont = size => ({ fontFamily: SERIF, fontWeight: 'bold', fontSize: size, color: '#000' });
const textEl = (x, y, text, size, fill, align, rot) => ({
  type: 'text', x: x, y: y, rotation: rot || 0,
  style: { text: text, font: 'bold ' + size + 'px ' + SERIF, fill: fill, textAlign: align, textVerticalAlign: 'middle' }
});

const chart = echarts.init(document.getElementById('chart'), null, { renderer: 'canvas' });

chart.setOption({
  animation: false,
  backgroundColor: '#fff',
  grid: [
    { left: 172, top: 21, width: 1223, height: 367, containLabel: false },
    { left: 172, top: 447, width: 1213, height: 490, containLabel: false }
  ],
  xAxis: [
    {
      type: 'value', gridIndex: 0, min: 37607, max: 45051,
      axisLine: { show: false }, axisTick: { show: false }, splitLine: { show: false },
      axisLabel: Object.assign({ customValues: xTickDays, formatter: yearLabel, margin: 8 }, labelFont(30))
    },
    {
      type: 'value', gridIndex: 1, min: 37607, max: 44990,
      axisLine: { show: true, onZero: true, lineStyle: axisBlack },
      axisTick: { show: true, customValues: xTickDays.slice(1), length: 7, lineStyle: axisBlack },
      axisLabel: { show: false }, splitLine: { show: false }
    }
  ],
  yAxis: [
    {
      type: 'value', gridIndex: 0, min: 3.566e19, max: 4.3e19,
      axisLine: { show: true, lineStyle: axisBlack },
      axisTick: { show: true, customValues: topTicks.map(v => v * 1e19), length: 9, lineStyle: axisBlack },
      axisLabel: Object.assign({ customValues: topTicks.map(v => v * 1e19), formatter: topLabel, margin: 24 }, labelFont(27)),
      splitLine: { show: false }
    },
    {
      type: 'value', gridIndex: 1, min: -3e18, max: 1e18,
      axisLine: { show: true, lineStyle: axisBlack },
      axisTick: { show: true, customValues: bottomTicks.map(v => v * 1e18), length: 9, lineStyle: axisBlack },
      axisLabel: Object.assign({ customValues: bottomTicks.map(v => v * 1e18), formatter: bottomLabel, margin: 24 }, labelFont(26)),
      splitLine: { show: false }
    }
  ],
  legend: {
    data: [{ name: 'AIRS', icon: 'circle' }, { name: 'GR', icon: 'rect' }],
    orient: 'vertical', left: 209, top: 30, itemWidth: 5, itemHeight: 5, itemGap: 18,
    textStyle: Object.assign({ padding: [0, 0, 0, 8] }, labelFont(32))
  },
  series: [
    {
      name: 'AIRS', type: 'scatter', xAxisIndex: 0, yAxisIndex: 0,
      symbol: 'circle', symbolSize: 5, data: airsData,
      itemStyle: { color: '#4679bd' }, z: 2
    },
    {
      name: 'GR', type: 'scatter', xAxisIndex: 0, yAxisIndex: 0,
      symbol: 'rect', symbolSize: 7, data: grData,
      itemStyle: { color: '#c23f3c' }, z: 2
    },
    {
      name: 'GR fit', type: 'line', xAxisIndex: 0, yAxisIndex: 0, silent: true,
      data: fitLine(grFit, 37660, 45020), symbol: 'none',
      lineStyle: { color: '#a3302c', width: 4, type: [0, 10], cap: 'round' }, z: 4
    },
    {
      name: 'AIRS fit', type: 'line', xAxisIndex: 0, yAxisIndex: 0, silent: true,
      data: fitLine(airsFit, 37660, 45020), symbol: 'none',
      lineStyle: { color: '#24508a', width: 4, type: [0, 10], cap: 'round' }, z: 4
    },
    {
      name: 'AIRS-GR', type: 'scatter', xAxisIndex: 1, yAxisIndex: 1,
      symbol: 'triangle', symbolSize: 7, data: diffData,
      itemStyle: { color: '#000' }, z: 2
    },
    {
      name: 'AIRS-GR fit', type: 'line', xAxisIndex: 1, yAxisIndex: 1, silent: true,
      data: fitLine(diffFit, 37607, 44929), symbol: 'none',
      lineStyle: { color: '#ff0000', width: 5 }, z: 4
    }
  ],
  graphic: [
    textEl(19, 40, 'а)', 38, '#000', 'left'),
    textEl(21, 422, 'б)', 38, '#000', 'left'),
    textEl(1403, 30, 'Izana', 31, '#000', 'right'),
    textEl(447, 82, 'y = 4,73E+14x + 2,02E+19', 32, '#b5302d', 'left'),
    textEl(456, 367, 'y = 3,41E+14x + 2,43E+19', 32, '#2e6fb5', 'left'),
    textEl(446, 903, 'y = -1,33E+14x + 4,11E+18', 32, '#000', 'left'),
    textEl(741, 948, 'Дата, год', 33, '#000', 'center'),
    textEl(28, 235, 'ОС CH₄, молек/см²', 32, '#000', 'center', Math.PI / 2),
    textEl(38, 677, 'Разность AIRS-GR, молек/см²', 32, '#000', 'center', Math.PI / 2)
  ]
});
</script>
</body>
</html>
